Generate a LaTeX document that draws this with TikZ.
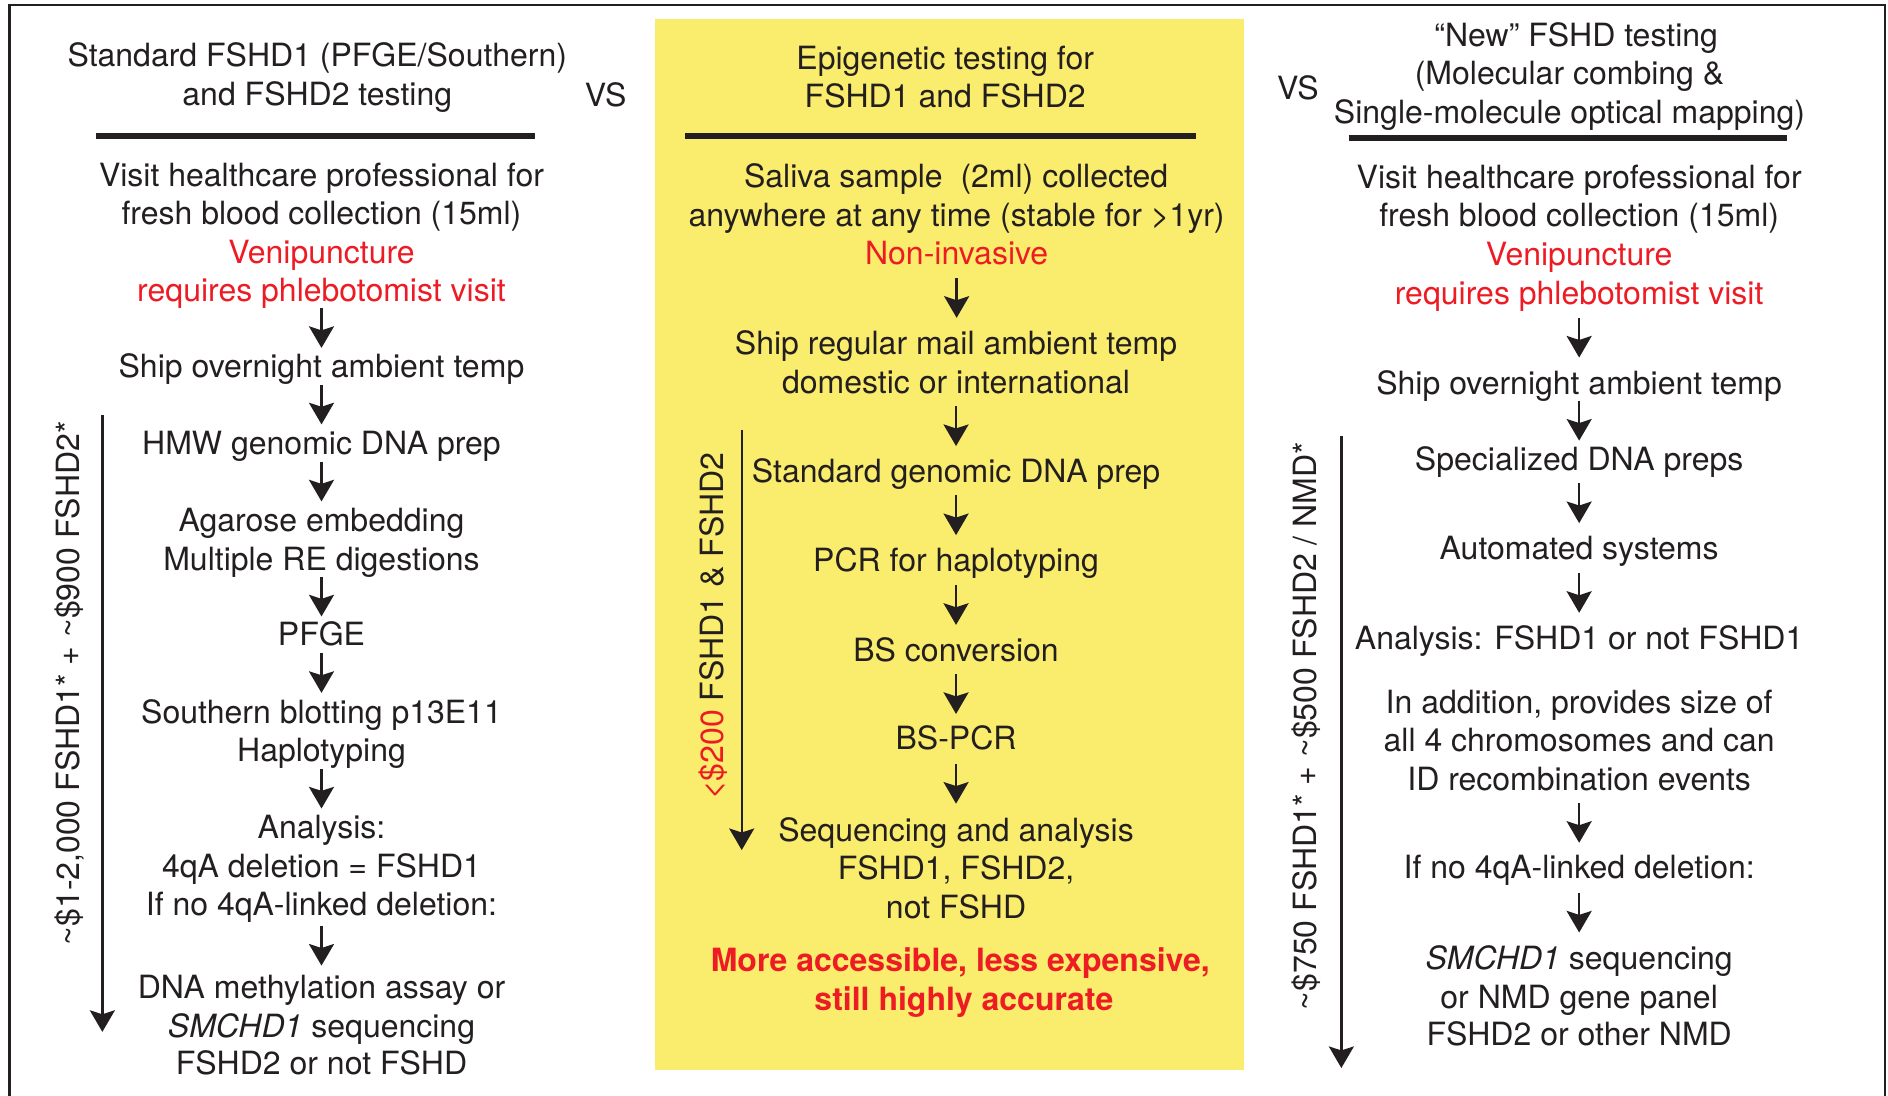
\documentclass[tikz,border=0pt]{standalone}
\usepackage{fontspec}
\setmainfont{TeX Gyre Heros}
\usetikzlibrary{arrows.meta,calc}
\definecolor{txt}{RGB}{35,31,32}
\definecolor{myred}{RGB}{237,28,36}
\definecolor{myyellow}{RGB}{250,236,108}
\newcommand\flowarr[2]{\draw[arr] ($(#1.south)!0.5!(#1.south|-#2.north)$) ++(0,-16.5) -- ++(0,33);}
\begin{document}
\begin{tikzpicture}[x=0.60205pt,y=-0.60205pt,
  every node/.style={font=\fontsize{16}{19.3}\selectfont, text=txt},
  ln/.style={anchor=base, inner sep=0pt, text height=11.5pt, text depth=0pt},
  redln/.style={ln, text=myred},
  boldred/.style={ln, text=myred, font=\fontsize{16}{19.3}\selectfont\bfseries},
  arr/.style={draw=txt, line width=1.2pt, -{Stealth[length=10.8pt,width=12.5pt,inset=2pt]}},
  rulestyle/.style={draw=txt, line width=3pt},
  framestyle/.style={draw=txt, line width=1.4pt},
  cost/.style={rotate=90, anchor=center, inner sep=0pt, text height=11.5pt, text depth=0pt}]
\useasboundingbox (0,0) rectangle (1568,910);
\fill[white] (0,0) rectangle (1568,910);
% yellow panel
\fill[myyellow] (544,16) rectangle (1033,889);
% frame
\draw[framestyle] (7.8,910) -- (7.8,4.2) -- (1565.5,4.2) -- (1565.5,910);

% ---------- left column ----------
\node[ln] (lh1) at (263.5,55.5) {Standard FSHD1 (PFGE/Southern)};
\node[ln] (lh2) at (263.5,87.5) {and FSHD2 testing};
\draw[rulestyle] (80,113) -- (444,113);
\node[ln] (l1) at (267,154.5) {Visit healthcare professional for};
\node[ln] (l2) at (267,186.5) {fresh blood collection (15ml)};
\node[redln] (l3) at (267,218.5) {Venipuncture};
\node[redln] (l4) at (267,250.5) {requires phlebotomist visit};
\node[ln] (l5) at (267,313.5) {Ship overnight ambient temp};
\node[ln] (l6) at (267,377.5) {HMW genomic DNA prep};
\node[ln] (l7) at (267,441.5) {Agarose embedding};
\node[ln] (l8) at (267,473.5) {Multiple RE digestions};
\node[ln] (l9) at (267,536.5) {PFGE};
\node[ln] (l10) at (267,600.5) {Southern blotting p13E11};
\node[ln] (l11) at (267,632.5) {Haplotyping};
\node[ln] (l12) at (267,696.5) {Analysis:};
\node[ln] (l13) at (267,728.5) {4qA deletion = FSHD1};
\node[ln] (l14) at (267,760.5) {If no 4qA-linked deletion:};
\node[ln] (l15) at (267,829.5) {DNA methylation assay or};
\node[ln] (l16) at (267,861.5) {\textit{SMCHD1} sequencing};
\node[ln] (l17) at (267,892.5) {FSHD2 or not FSHD};
\flowarr{l4}{l5}
\flowarr{l5}{l6}
\flowarr{l6}{l7}
\flowarr{l8}{l9}
\flowarr{l9}{l10}
\flowarr{l11}{l12}
\flowarr{l14}{l15}
\coordinate (la1) at (85,345);
\coordinate (la2) at (85,857);
\draw[arr] (la1) -- (la2);
\node[cost] (lcost) at (56.5,567.5) {\textasciitilde\$1-2,000 FSHD1* + \textasciitilde\$900 FSHD2*};

\node[ln] (vs1) at (503,88.5) {VS};
\node[ln] (vs2) at (1078,82.5) {VS};

% ---------- middle column ----------
\node[ln] (mh1) at (785,57.5) {Epigenetic testing for};
\node[ln] (mh2) at (785,89.5) {FSHD1 and FSHD2};
\draw[rulestyle] (569,113) -- (993,113);
\node[ln] (m1) at (794,155.5) {Saliva sample~~(2ml) collected};
\node[ln] (m2) at (794.5,188.5) {anywhere at any time (stable for >1yr)};
\node[redln] (m3) at (794.5,219.5) {Non-invasive};
\node[ln] (m4) at (794,294.5) {Ship regular mail ambient temp};
\node[ln] (m5) at (794,326.5) {domestic or international};
\node[ln] (m6) at (794,400.5) {Standard genomic DNA prep};
\node[ln] (m7) at (794,474.5) {PCR for haplotyping};
\node[ln] (m8) at (794,549.5) {BS conversion};
\node[ln] (m9) at (794,622.5) {BS-PCR};
\node[ln] (m10) at (794,698.5) {Sequencing and analysis};
\node[ln] (m11) at (794,730.5) {FSHD1, FSHD2,};
\node[ln] (m12) at (794,762.5) {not FSHD};
\node[boldred] (m13) at (797.5,806.5) {More accessible, less expensive,};
\node[boldred] (m14) at (800.5,839.5) {still highly accurate};
\flowarr{m3}{m4}
\flowarr{m5}{m6}
\flowarr{m6}{m7}
\flowarr{m7}{m8}
\flowarr{m8}{m9}
\flowarr{m9}{m10}
\coordinate (ma1) at (616,357);
\coordinate (ma2) at (616,706);
\draw[arr] (ma1) -- (ma2);
\node[cost] (mcost) at (591,520) {\textcolor{myred}{<\$200} FSHD1 \& FSHD2};

% ---------- right column ----------
\node[ln] (rh1) at (1309,38.5) {“New” FSHD testing};
\node[ln] (rh2) at (1303.5,70.5) {(Molecular combing \&};
\node[ln] (rh3) at (1303.5,102.5) {Single-molecule optical mapping)};
\draw[rulestyle] (1120,115) -- (1484,115);
\node[ln] (r1) at (1311.5,156.5) {Visit healthcare professional for};
\node[ln] (r2) at (1311.5,188.5) {fresh blood collection (15ml)};
\node[redln] (r3) at (1311.5,220.5) {Venipuncture};
\node[redln] (r4) at (1311.5,252.5) {requires phlebotomist visit};
\node[ln] (r5) at (1311.5,327.5) {Ship overnight ambient temp};
\node[ln] (r6) at (1311.5,390.5) {Specialized DNA preps};
\node[ln] (r7) at (1311.5,464.5) {Automated systems};
\node[ln] (r8) at (1311.5,539.5) {Analysis: FSHD1 or not FSHD1};
\node[ln] (r9) at (1311.5,592.5) {In addition, provides size of};
\node[ln] (r10) at (1311.5,624.5) {all 4 chromosomes and can};
\node[ln] (r11) at (1311.5,656.5) {ID recombination events};
\node[ln] (r12) at (1311.5,729.5) {If no 4qA-linked deletion:};
\node[ln] (r13) at (1311.5,805.5) {\textit{SMCHD1} sequencing};
\node[ln] (r14) at (1311.5,837.5) {or NMD gene panel};
\node[ln] (r15) at (1311.5,868.5) {FSHD2 or other NMD};
\flowarr{r4}{r5}
\flowarr{r5}{r6}
\flowarr{r6}{r7}
\flowarr{r7}{r8}
\flowarr{r11}{r12}
\flowarr{r12}{r13}
\coordinate (ra1) at (1114,362);
\coordinate (ra2) at (1114,887);
\draw[arr] (ra1) -- (ra2);
\node[cost] (rcost) at (1084,603) {\textasciitilde\$750 FSHD1* + \textasciitilde\$500 FSHD2 / NMD*};
\end{tikzpicture}
\end{document}
